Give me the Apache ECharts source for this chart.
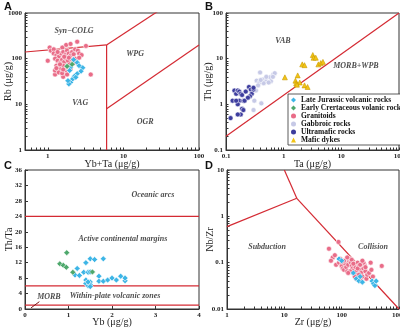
<!DOCTYPE html>
<html>
<head>
<meta charset="utf-8">
<script src="https://cdn.jsdelivr.net/npm/echarts@6/dist/echarts.min.js"></script>
<style>
  html, body { margin: 0; padding: 0; background: #fff; }
  #chart { width: 400px; height: 329px; }
</style>
</head>
<body>
<div id="chart"></div>
<script>
// ---- data ----
// A: Rb vs Yb+Ta
var aGranitoids = [[1.0,90],[1.06,175],[1.1,150],[1.2,160],[1.56,175],[1.75,200],[2.0,210],[2.45,235],[3.2,190],[3.7,45],
  [1.25,45],[1.6,40],[1.2,130],[1.3,120],[1.4,110],[1.5,130],[1.6,140],[1.7,120],[1.8,150],[1.9,130],[2.0,115],[2.1,140],
  [2.2,125],[2.3,160],[2.5,150],[2.6,130],[2.8,120],[1.25,100],[1.35,90],[1.45,80],[1.55,95],[1.65,85],[1.75,100],[1.85,90],
  [1.95,75],[2.1,95],[2.3,100],[2.6,105],[1.3,70],[1.4,65],[1.5,60],[1.6,70],[1.7,55],[1.8,65],[2.0,60],[1.25,55],[1.4,50],
  [1.55,48],[1.8,45],[1.3,62],[1.45,75],[1.6,58],[2.2,80],[1.9,105],[1.65,110],[1.35,140]];
var aLateJurassic = [[2.2,95],[2.45,82],[2.6,70],[2.9,63],[2.75,53],[2.45,47],[2.25,41],[2.1,35],[2.0,30],[1.9,28],[1.85,33],[2.35,39],[2.0,65],[1.95,55]];
var aEarlyCret = [[2.1,75],[1.8,68]];
var aLines = [
  [[0.5,140],[6,200]],
  [[6,200],[50,2000]],
  [[6,200],[6,1]],
  [[6,8],[100,200]]
];
var aLabels = [['Syn\u2212COLG',2.23,400],['WPG',14.3,124],['VAG',2.69,10.8],['OGR',19.4,4.1]];

// B: Th vs Ta
var bGabbroic = [[0.39,5.0],[0.34,3.3],[0.44,3.5],[0.58,3.9],[0.66,4.5],[0.7,4.8],[0.3,2.3],[0.31,1.2],[0.41,1.05],[0.3,0.75],
  [0.5,3.2],[0.6,3.2],[0.38,3.0],[0.45,2.9],[0.55,3.0],[0.36,2.6],[0.28,1.8],[0.33,2.0],[0.4,3.4],[0.65,4.0],[0.5,4.0]];
var bUltramafic = [[0.12,0.5],[0.13,1.2],[0.14,2.0],[0.15,1.7],[0.16,2.0],[0.17,1.9],[0.18,1.7],[0.19,1.6],[0.17,1.2],[0.16,1.0],
  [0.2,1.2],[0.21,1.2],[0.19,0.8],[0.18,0.6],[0.16,0.6],[0.22,1.9],[0.25,2.4],[0.27,2.1],[0.28,1.7],[0.26,1.5],[0.3,2.1],
  [0.3,2.3],[0.24,1.4],[0.15,1.2],[0.2,0.75]];
var bMaficDykes = [[1.05,3.9],[1.6,3.3],[1.75,4.3],[1.9,3.0],[1.65,2.9],[2.1,7.5],[2.3,7.2],[3.2,12],[3.3,10.5],[3.6,10.5],
  [4.0,7.5],[4.4,8.0],[4.8,8.5],[2.3,2.6],[2.6,2.4],[1.7,2.7]];
var bLines = [[[0.1,0.2],[100,100]]];
var bLabels = [['VAB',0.97,24],['MORB+WPB',17.9,6.8]];

// C: Th/Ta vs Yb
var cLateJurassic = [[1.2,10.5],[1.15,8.8],[1.25,8.7],[1.4,12.0],[1.5,13.0],[1.6,12.8],[1.8,13.0],[1.35,9.5],[1.45,9.5],[1.5,9.6],
  [1.4,7.5],[1.4,6.6],[1.45,6.0],[1.5,7.0],[1.5,6.3],[1.5,5.8],[1.45,7.0],[1.7,8.5],[1.7,7.2],[1.8,7.2],[1.9,7.5],[2.0,8.0],
  [2.1,7.5],[2.2,8.5],[2.3,7.3],[2.3,8.0]];
var cEarlyCret = [[0.8,11.7],[0.88,11.3],[0.95,10.8],[0.96,14.6],[1.1,9.5],[1.55,9.6]];
var cLevels = [24, 6, 1];
var cArrow = [[0.33,1.9],[0.14,0.3]];
var cLabels = [['Oceanic arcs',2.94,29.5],['Active continental margins',2.25,18.1],['Within-plate volcanic zones',2.07,3.4],['MORB',0.55,3.1]];

// D: Nb/Zr vs Zr
var dGranitoids = [[60,0.2],[88,0.28],[70,0.13],[76,0.145],[65,0.11],[80,0.09],[90,0.1],[100,0.085],[105,0.075],[110,0.07],
  [115,0.095],[120,0.08],[125,0.065],[130,0.09],[135,0.11],[140,0.12],[145,0.1],[150,0.085],[155,0.075],[160,0.06],[165,0.07],
  [170,0.095],[175,0.08],[180,0.065],[185,0.055],[190,0.1],[200,0.085],[210,0.07],[220,0.06],[230,0.05],[240,0.075],[250,0.09],
  [260,0.065],[270,0.045],[280,0.055],[300,0.06],[320,0.1],[330,0.07],[350,0.05],[500,0.085],[95,0.12],[110,0.11],[125,0.13],
  [150,0.115],[160,0.095],[200,0.055],[180,0.045],[220,0.04],[240,0.1],[140,0.065],[100,0.105],[130,0.06],[170,0.05],
  [190,0.075],[210,0.09],[260,0.08],[230,0.11]];
var dLateJurassic = [[90,0.12],[100,0.11],[180,0.045],[200,0.04],[230,0.038],[210,0.05],[340,0.04],[360,0.035],[380,0.032],[400,0.04],[160,0.06]];
var dLines = [[[1,0.6],[16.5,2.45]],[[16.5,2.45],[10,10]],[[16.5,2.45],[1000,0.01]]];
var dLabels = [['Subduction',5.0,0.218],['Collision',352,0.218]];

// ---- style ----
var RED = '#d42a33';
var SERIF = 'Liberation Serif';
var C_CYAN = '#3db5e6', C_GREEN = '#4ea86c', C_PINK = '#e96c88', C_LAV = '#c6c9e6', C_BLUE = '#3d3d9e', C_YEL = '#f2c416';

var names = ['Late Jurassic volcanic rocks', 'Early Crertaceous volanic rocks', 'Granitoids', 'Gabbroic rocks', 'Ultramafic rocks', 'Mafic dykes'];

var grids = [
  { left: 25, top: 13, width: 174, height: 137 },
  { left: 226, top: 13, width: 173, height: 137 },
  { left: 25, top: 170, width: 174, height: 139 },
  { left: 227, top: 170, width: 172, height: 139 }
].map(function (g) {
  return Object.assign({ show: true, borderColor: '#333', borderWidth: 1, backgroundColor: '#fff',
    containLabel: false, outerBoundsMode: 'none' }, g);
});

// decades and in-between tick values of a log axis
function decades(min, max) {
  var out = [];
  for (var p = Math.floor(Math.log10(min)); p <= Math.ceil(Math.log10(max)); p++) {
    var v = +Math.pow(10, p).toPrecision(6);
    if (v >= min - 1e-12 && v <= max + 1e-12) out.push(v);
  }
  return out;
}
function logTicks(min, max) {
  var out = [];
  for (var p = Math.floor(Math.log10(min)); p <= Math.ceil(Math.log10(max)); p++) {
    for (var k = 1; k < 10; k++) {
      var v = +(k * Math.pow(10, p)).toPrecision(6);
      if (v >= min - 1e-12 && v <= max + 1e-12) out.push(v);
    }
  }
  return out;
}

function axis(gi, type, min, max, name, gap, extra) {
  var isLog = type === 'log';
  return Object.assign({
    gridIndex: gi, type: type, min: min, max: max, logBase: 10,
    name: name, nameLocation: 'middle', nameGap: gap, nameMoveOverlap: false,
    nameTextStyle: { fontFamily: SERIF, fontSize: 10, color: '#222' },
    axisLine: { show: true, lineStyle: { color: '#333', width: 1 } },
    axisTick: { show: true, inside: true, length: isLog ? 2.5 : 3, lineStyle: { color: '#333' },
      customValues: isLog ? logTicks(min, max) : undefined },
    axisLabel: { fontFamily: SERIF, fontWeight: 'bold', fontSize: 7, color: '#222', margin: 3,
      customValues: isLog ? decades(min, max) : undefined,
      formatter: isLog ? function (v) { return String(+(+v).toPrecision(3)); } : null },
    splitLine: { show: false }
  }, extra || {});
}

function pts(name, data, gi, symbol, color, size, border) {
  return { type: 'scatter', name: name, xAxisIndex: gi, yAxisIndex: gi, data: data, symbol: symbol, symbolSize: size,
    itemStyle: { color: color, borderColor: border || '#fff', borderWidth: 0.6, opacity: 1 }, z: 4 };
}

function boundary(data, gi) {
  return { type: 'line', xAxisIndex: gi, yAxisIndex: gi, data: data, symbol: 'none', clip: true, silent: true,
    lineStyle: { color: RED, width: 1.2 }, z: 2 };
}

function labels(list, gi, extra) {
  return Object.assign({ type: 'scatter', xAxisIndex: gi, yAxisIndex: gi, symbolSize: 1, silent: true,
    itemStyle: { color: 'rgba(0,0,0,0)' },
    data: list.map(function (d) { return { name: d[0], value: [d[1], d[2]] }; }),
    label: { show: true, position: 'inside', formatter: '{b}', fontFamily: SERIF, fontStyle: 'italic',
      fontWeight: 'bold', fontSize: 8, color: '#222' }, z: 5 }, extra || {});
}

var series = [];
aLines.forEach(function (l) { series.push(boundary(l, 0)); });
bLines.forEach(function (l) { series.push(boundary(l, 1)); });
cLevels.forEach(function (v) { series.push(boundary([[0, v], [4, v]], 2)); });
dLines.forEach(function (l) { series.push(boundary(l, 3)); });

series.push(pts(names[2], aGranitoids, 0, 'circle', C_PINK, 5));
series.push(pts(names[0], aLateJurassic, 0, 'diamond', C_CYAN, 6));
series.push(pts(names[1], aEarlyCret, 0, 'diamond', C_GREEN, 6));
series.push(pts(names[3], bGabbroic, 1, 'circle', C_LAV, 5));
series.push(pts(names[4], bUltramafic, 1, 'circle', C_BLUE, 5));
series.push(pts(names[5], bMaficDykes, 1, 'triangle', C_YEL, 5, '#c99a00'));
series.push(pts(names[0], cLateJurassic, 2, 'diamond', C_CYAN, 6));
series.push(pts(names[1], cEarlyCret, 2, 'diamond', C_GREEN, 6));
series.push(pts(names[2], dGranitoids, 3, 'circle', C_PINK, 5));
series.push(pts(names[0], dLateJurassic, 3, 'diamond', C_CYAN, 6));

series.push(labels(aLabels, 0));
series.push(labels(bLabels, 1));
series.push(labels(cLabels, 2, {
  markLine: { silent: true, symbol: ['none', 'arrow'], symbolSize: [0, 5],
    lineStyle: { color: '#7a1414', width: 1, type: 'solid' }, label: { show: false },
    data: [[{ coord: cArrow[0] }, { coord: cArrow[1] }]] }
}));
series.push(labels(dLabels, 3));

var panelText = function (t, x, y) {
  return { type: 'text', left: x, top: y, style: { text: t, font: 'bold 11px Arial, "Liberation Sans"', fill: '#111' } };
};

var option = {
  animation: false,
  grid: grids,
  xAxis: [
    axis(0, 'log', 0.5, 100, 'Yb+Ta (\u03bcg/g)', 9),
    axis(1, 'log', 0.1, 100, 'Ta (\u03bcg/g)', 9),
    axis(2, 'value', 0, 4, 'Yb (\u03bcg/g)', 8, { interval: 1 }),
    axis(3, 'log', 1, 1000, 'Zr (\u03bcg/g)', 8)
  ],
  yAxis: [
    axis(0, 'log', 1, 1000, 'Rb (\u03bcg/g)', 12),
    axis(1, 'log', 0.1, 100, 'Th (\u03bcg/g)', 13),
    axis(2, 'value', 0, 36, 'Th/Ta', 11, { interval: 4 }),
    axis(3, 'log', 0.01, 10, 'Nb/Zr', 12)
  ],
  legend: {
    left: 288, top: 94, orient: 'vertical',
    data: [
      { name: names[0], icon: 'diamond' },
      { name: names[1], icon: 'diamond' },
      { name: names[2], icon: 'circle' },
      { name: names[3], icon: 'circle' },
      { name: names[4], icon: 'circle' },
      { name: names[5], icon: 'triangle' }
    ],
    itemWidth: 5, itemHeight: 5, itemGap: 0,
    itemStyle: { borderWidth: 0 },
    backgroundColor: '#fff', borderColor: '#333', borderWidth: 0.8, padding: [2, 3, 1, 3],
    selectedMode: false,
    textStyle: { fontFamily: SERIF, fontWeight: 'bold', fontSize: 7.5, color: '#111', lineHeight: 7.6, padding: [0, 0, 0, 0] }
  },
  graphic: [panelText('A', 4, 1), panelText('B', 205, 1), panelText('C', 4, 160), panelText('D', 205, 160)],
  series: series
};

var chart = echarts.init(document.getElementById('chart'));
chart.setOption(option);
window.addEventListener('resize', function () { chart.resize(); });
</script>
</body>
</html>
